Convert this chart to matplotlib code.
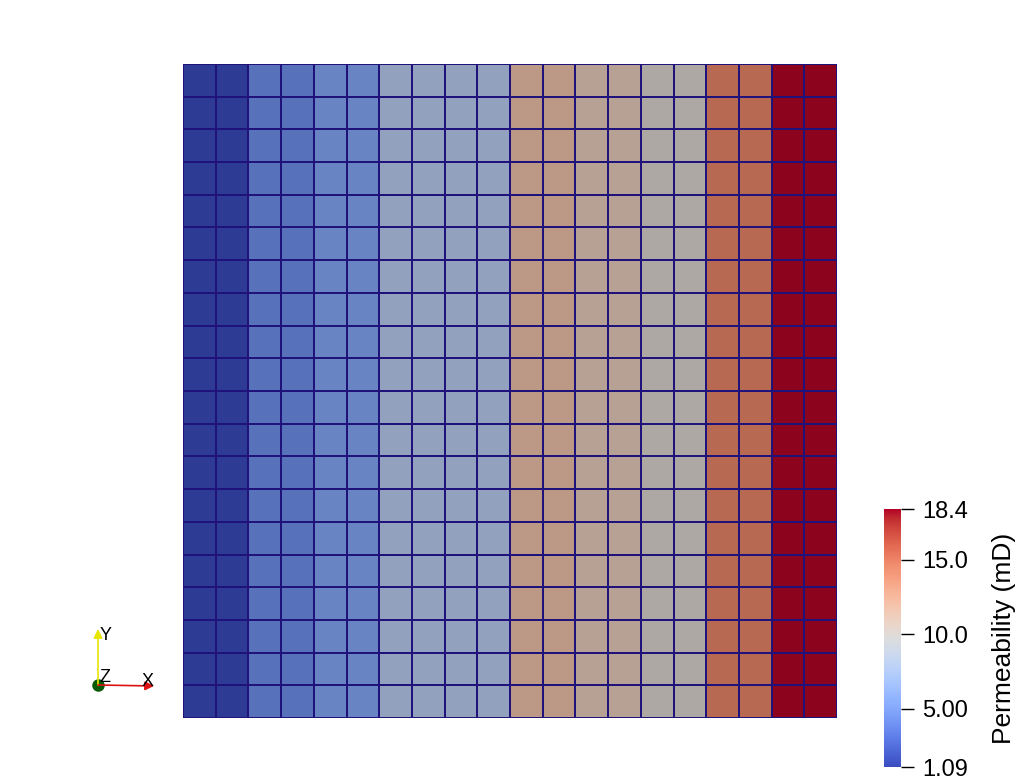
import numpy as np
import matplotlib
matplotlib.use("Agg")
import matplotlib.pyplot as plt
from matplotlib.colors import ListedColormap, Normalize
from matplotlib.cm import ScalarMappable

# permeability per grid column (mD), 20 x 20 cells, layered in x
perm_columns = [1.09, 1.09, 4.0, 4.0, 5.2, 5.2, 7.9, 7.9, 7.9, 7.9,
                11.8, 11.8, 11.0, 11.0, 10.1, 10.1, 14.8, 14.8, 18.4, 18.4]
n_rows = 20
vmin, vmax = 1.09, 18.4
cbar_ticks = [1.09, 5.0, 10.0, 15.0, 18.4]
cbar_labels = ["1.09", "5.00", "10.0", "15.0", "18.4"]
cbar_title = "Permeability (mD)"

perm = np.tile(np.array(perm_columns), (n_rows, 1))

plt.rcParams['font.family'] = ['Liberation Sans', 'DejaVu Sans']

fig = plt.figure(figsize=(10.2, 7.83), dpi=100)
W, H = 1020, 783

# render surface is a bit darker than the colormap (lighting)
base = plt.get_cmap('coolwarm')
shade = 0.77
lit = base(np.linspace(0, 1, 256))
lit[:, :3] *= shade
lit_cmap = ListedColormap(lit)

ax = fig.add_axes([183 / W, 1 - 718 / H, 654 / W, 654 / H])
ax.pcolormesh(perm, cmap=lit_cmap, vmin=vmin, vmax=vmax,
              edgecolors=(0.12, 0.07, 0.48), linewidth=1.1)
ax.set_xlim(0, perm.shape[1])
ax.set_ylim(0, perm.shape[0])
ax.set_axis_off()

# colorbar
cax = fig.add_axes([884 / W, 1 - 767 / H, 17 / W, 258 / H])
sm = ScalarMappable(norm=Normalize(vmin, vmax), cmap=base)
cb = fig.colorbar(sm, cax=cax)
cb.outline.set_visible(False)
cb.set_ticks(cbar_ticks)
cb.set_ticklabels(cbar_labels)
cax.tick_params(axis='y', length=9.5, width=1.0, direction='out',
                labelsize=17, pad=6, colors='black')
cb.set_label(cbar_title, fontsize=19, labelpad=17)

# orientation triad (lower left)
tri = fig.add_axes([0, 0, 1, 1])
tri.set_xlim(0, W)
tri.set_ylim(H, 0)
tri.set_axis_off()
ox, oy = 98, 685
tri.annotate("", xy=(ox, 629), xytext=(ox, oy),
             arrowprops=dict(arrowstyle="-|>", color="#e6e600", lw=1.2,
                             mutation_scale=13, shrinkA=0, shrinkB=0))
tri.annotate("", xy=(154, oy + 1), xytext=(ox, oy),
             arrowprops=dict(arrowstyle="-|>", color="#dd1111", lw=1.2,
                             mutation_scale=13, shrinkA=0, shrinkB=0))
tri.plot([ox], [oy], 'o', color="#0a5a0a", markersize=8)
tri.text(ox + 2, 636, "Y", fontsize=13, ha='left', va='center')
tri.text(ox + 1, 678, "Z", fontsize=13, ha='left', va='center')
tri.text(142, 681, "X", fontsize=13, ha='left', va='center')

fig.savefig("out.png", dpi=100)
